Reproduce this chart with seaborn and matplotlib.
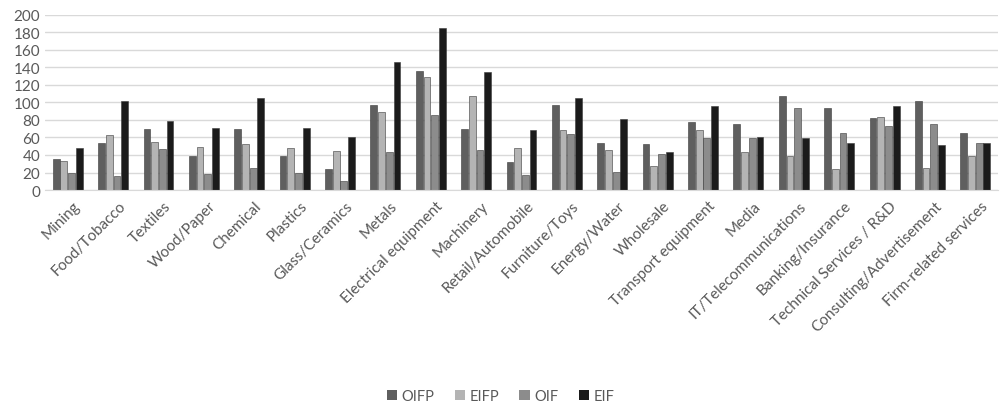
import matplotlib
matplotlib.use("Agg")

import matplotlib.pyplot as plt
import matplotlib.transforms as mtransforms
import numpy as np
import pandas as pd
import seaborn as sns

categories = [
    "Mining", "Food/Tobacco", "Textiles", "Wood/Paper", "Chemical", "Plastics",
    "Glass/Ceramics", "Metals", "Electrical equipment", "Machinery",
    "Retail/Automobile", "Furniture/Toys", "Energy/Water", "Wholesale",
    "Transport equipment", "Media", "IT/Telecommunications", "Banking/Insurance",
    "Technical Services / R&D", "Consulting/Advertisement", "Firm-related services",
]
oifp = [35, 54, 70, 39, 70, 39, 24, 97, 136, 70, 32, 97, 54, 53, 78, 75, 107, 93, 82, 102, 65]
eifp = [33, 63, 55, 49, 53, 48, 45, 89, 129, 107, 48, 69, 46, 27, 68, 43, 39, 24, 83, 25, 39]
oif = [20, 16, 47, 18, 25, 20, 10, 43, 85, 46, 17, 64, 21, 41, 59, 59, 93, 65, 73, 75, 54]
eif = [48, 101, 79, 71, 105, 71, 60, 146, 185, 134, 69, 105, 81, 43, 96, 60, 59, 54, 96, 51, 54]

series = ["OIFP", "EIFP", "OIF", "EIF"]
colors = ["#5f5f5f", "#b4b4b4", "#8c8c8c", "#1b1b1b"]
_TEXT = "#595959"
_GRID = "#d9d9d9"

df = pd.DataFrame({"category": categories, "OIFP": oifp, "EIFP": eifp, "OIF": oif, "EIF": eif})
long = df.melt(id_vars="category", var_name="series", value_name="value")

sns.set_style("white")
plt.rcParams["font.family"] = ["Lato", "DejaVu Sans"]

fig = plt.figure(figsize=(10.01, 4.10), dpi=100)
ax = fig.add_axes([0.045, 0.534, 0.952, 0.428])

sns.barplot(data=long, x="category", y="value", hue="series", hue_order=series,
            order=categories, palette=colors, width=0.68, gap=0.12,
            edgecolor="#3a3a3a", linewidth=0.4, ax=ax, legend=True)

ax.set_ylim(0, 200)
ax.set_yticks(np.arange(0, 201, 20))
ax.set_xlim(-0.5, len(categories) - 0.5)
ax.yaxis.grid(True, color=_GRID, linewidth=1.0)
ax.set_axisbelow(True)
for side in ["top", "right", "left"]:
    ax.spines[side].set_visible(False)
ax.spines["bottom"].set_color(_GRID)
ax.set_xlabel("")
ax.set_ylabel("")
ax.tick_params(axis="both", length=0, colors=_TEXT, labelsize=11)
ax.tick_params(axis="x", pad=6)
shift = mtransforms.ScaledTranslation(5 / 100, 0, fig.dpi_scale_trans)
for lab in ax.get_xticklabels():
    lab.set_rotation(45)
    lab.set_ha("right")
    lab.set_rotation_mode("anchor")
    lab.set_transform(lab.get_transform() + shift)

handles, labels = ax.get_legend_handles_labels()
for h in handles:
    h.set_edgecolor("none")
ax.legend_.remove()
fig.legend(handles, labels, loc="center", bbox_to_anchor=(0.5, 0.032), ncol=4,
           frameon=False, fontsize=10.5, labelcolor=_TEXT, handlelength=0.7,
           handleheight=0.7, handletextpad=0.3, columnspacing=1.4)

fig.savefig("out.png", dpi=100, facecolor="white")
